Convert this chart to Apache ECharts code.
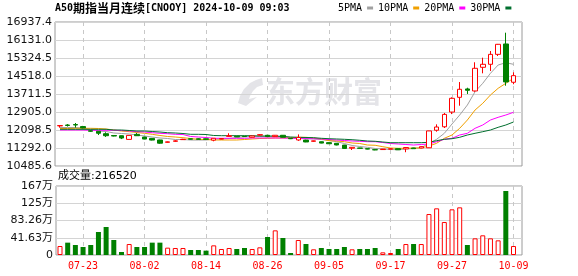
<!DOCTYPE html>
<html><head><meta charset="utf-8">
<script src="https://cdn.jsdelivr.net/npm/echarts@6/dist/echarts.min.js"></script>
<style>html,body{margin:0;padding:0;background:#fff}#c{width:578px;height:276px}</style>
</head><body><div id="c"></div>
<script>
const dates = ['07-18','07-19','07-22','07-23','07-24','07-25','07-26','07-29','07-30','07-31','08-01','08-02',
'08-05','08-06','08-07','08-08','08-09','08-12','08-13','08-14','08-15','08-16','08-19','08-20','08-21','08-22','08-23','08-26',
'08-27','08-28','08-29','08-30','09-02','09-03','09-04','09-05','09-06','09-09','09-10','09-11','09-12','09-13','09-16','09-17',
'09-18','09-19','09-20','09-23','09-24','09-25','09-26','09-27','09-30','10-01','10-02','10-03','10-04','10-07','10-08','10-09'];
const opens = [12280,12320,12340,12250,12060,12040,11930,11850,11840,11675,11900,11780,11720,11650,11545,11590,11665,11700,11700,11700,11640,11690,11810,11820,11815,11770,11870,11860,11800,11860,11720,11650,11645,11590,11570,11530,11500,11420,11280,11290,11260,11215,11220,11240,11260,11250,11290,11290,11300,12085,12240,12900,13560,13935,13845,14905,15040,15485,15950,14235];
const closes = [12295,12300,12320,12190,12040,11950,11840,11825,11735,11855,11840,11690,11645,11505,11565,11610,11680,11685,11680,11680,11725,11710,11840,11790,11800,11830,11885,11800,11860,11770,11705,11760,11560,11610,11510,11480,11425,11270,11320,11275,11240,11205,11240,11255,11210,11310,11260,11350,12055,12230,12795,13515,13920,13875,14860,15040,15485,15935,14250,14530];
const lows = [12200,12250,12200,12170,12010,11870,11785,11810,11690,11670,11830,11680,11630,11480,11530,11570,11650,11670,11670,11670,11590,11680,11800,11780,11790,11760,11850,11790,11790,11760,11690,11610,11550,11570,11500,11470,11410,11250,11200,11260,11230,11190,11210,11230,11200,11100,11250,11280,11290,12020,12185,12810,13185,13710,13810,14635,14740,15410,14080,14145];
const highs = [12300,12360,12410,12280,12090,12050,11995,11870,11850,11860,11960,11790,11730,11660,11580,11640,11700,11710,11720,11710,11730,11720,11950,11830,11830,11840,11910,11870,11870,11870,11730,11900,11660,11620,11580,11540,11510,11430,11330,11300,11270,11225,11250,11270,11270,11330,11300,11370,12060,12350,12860,13560,14245,13990,15130,15335,15635,15950,16455,14680];
const volumes = [217000,298000,241000,193000,241000,555000,676000,362000,72000,265000,193000,193000,298000,298000,177000,169000,169000,121000,121000,105000,233000,145000,169000,145000,169000,145000,185000,434000,595000,410000,48000,362000,265000,137000,169000,145000,145000,193000,137000,145000,145000,169000,64000,48000,145000,265000,265000,265000,989000,1126000,796000,1102000,1150000,241000,402000,475000,402000,354000,1545000,216520];
const ma5 = [12208,12208,12208,12186,12118,12051,12029,11962,11939,11917,11872,11827,11782,11738,11715,11670,11670,11648,11648,11648,11693,11693,11715,11760,11796,11805,11805,11805,11805,11805,11760,11738,11715,11693,11670,11626,11572,11491,11402,11357,11321,11267,11245,11222,11213,11245,11267,11303,11500,11679,11948,12365,12768,13216,13812,14188,14636,15008,15111,15039];
const ma10 = [12163,12163,12172,12172,12172,12163,12141,12096,12051,12020,11984,11948,11903,11850,11805,11782,11751,11715,11679,11670,11648,11648,11648,11648,11670,11693,11715,11724,11738,11738,11751,11769,11769,11738,11693,11617,11603,11572,11514,11491,11424,11411,11348,11290,11276,11276,11290,11290,11379,11500,11724,11872,12172,12544,12992,13292,13664,13964,14188,14412];
const ma20 = [12096,12096,12096,12096,12083,12083,12083,12083,12074,12051,12020,12006,11975,11948,11930,11903,11894,11805,11782,11760,11724,11724,11724,11724,11724,11738,11738,11738,11738,11738,11724,11715,11706,11706,11693,11670,11648,11626,11603,11590,11572,11572,11536,11491,11469,11446,11424,11446,11469,11572,11679,11724,11872,11948,12172,12320,12544,12665,12768,12889];
const ma30 = [12127,12127,12127,12127,12127,12127,12127,12096,12096,12074,12051,12051,12029,12006,11975,11962,11939,11903,11903,11894,11850,11841,11841,11841,11841,11841,11827,11827,11827,11805,11782,11769,11760,11751,11724,11706,11693,11679,11661,11635,11603,11590,11558,11527,11527,11527,11527,11527,11545,11617,11679,11706,11769,11872,11948,12020,12096,12217,12320,12454];
const priceTickLabels = ['10485.6','11292.0','12098.5','12905.0','13711.5','14518.0','15324.5','16131.0','16937.4'];
const volTickLabels = ['0','41.63万','83.26万','125万','167万'];
const maNames = ['5PMA','10PMA','20PMA','30PMA'];
const titleCode = 'CNOOY', titleName = '期指当月连续', titleTime = '2024-10-09 09:03';

const priceMin = 10483.2, priceStep = 806.4, priceMax = priceMin + 8 * priceStep;
const volStep = 416300, volMax = 4 * volStep;

const UP = '#ff0000', DOWN = '#008000';
const maColors = ['#a0a0a0', '#f0a000', '#ff00ff', '#006f2e'];
const showIdx = (i) => (i - 3) % 8 === 0;
const kdata = opens.map((o, i) => [o, closes[i], lows[i], highs[i]]);
const volData = volumes.map((v, i) => ({
  value: v,
  itemStyle: closes[i] >= opens[i]
    ? { color: '#ffffff', borderColor: UP, borderWidth: 1 }
    : { color: DOWN, borderColor: DOWN, borderWidth: 0 }
}));

const chart = echarts.init(document.getElementById('c'), null, { renderer: 'canvas' });
const mono = '"DejaVu Sans Mono", monospace';
const dashed = { show: true, interval: showIdx, lineStyle: { color: '#c8c8c8', type: [4, 4], width: 1 } };
const wm = '#e4e4e8';

chart.setOption({
  animation: false,
  backgroundColor: '#ffffff',
  title: [
    { left: 55, top: 2, padding: 0,
      text: '{a|A50}{c|' + titleName + '}{a|[' + titleCode + '] ' + titleTime + '}',
      textStyle: { rich: {
        a: { fontFamily: mono, fontSize: 10, color: '#000' },
        c: { fontFamily: '"Noto Sans CJK SC"', fontSize: 12, color: '#000' } } } },
    { left: 58, top: 171, padding: 0,
      text: '成交量:' + volumes[volumes.length - 1],
      textStyle: { fontFamily: '"DejaVu Sans", "Noto Sans CJK SC"', fontSize: 11, fontWeight: 'normal', color: '#000' } }
  ],
  legend: {
    left: 338, top: 3, padding: 0, itemGap: 5, itemWidth: 6, itemHeight: 3, align: 'right',
    icon: 'rect', data: maNames,
    textStyle: { fontFamily: mono, fontSize: 10, color: '#000' }
  },
  graphic: [
    { type: 'text', silent: true, z: 0, x: 266, y: 92,
      style: { text: '东方财富', fontSize: 29, fontWeight: 'bold', fontFamily: 'Noto Sans CJK SC',
        fill: wm, textVerticalAlign: 'middle', verticalAlign: 'middle' } },
    { type: 'polygon', silent: true, z: 0,
      shape: { points: [[238,103],[240,96],[244,89],[250,83],[256,80],[262,78],[263,85],[257,87],[253,91],[250,96],[249,99],[257,97],[246,106]] },
      style: { fill: wm } }
  ],
  grid: [
    { left: 55, top: 22, width: 467, height: 144, show: true, borderColor: '#9a9a9a', borderWidth: 1 },
    { left: 60, top: 22, width: 453.5, height: 144 },
    { left: 56, top: 186, width: 466, height: 69, show: true, borderColor: '#9a9a9a', borderWidth: 1 },
    { left: 60, top: 186, width: 453.5, height: 69 }
  ],
  xAxis: [
    { gridIndex: 0, type: 'value', show: false, min: 0, max: 1 },
    { gridIndex: 1, type: 'category', data: dates, boundaryGap: false,
      axisLine: { show: false }, axisTick: { show: false }, axisLabel: { show: false }, splitLine: dashed },
    { gridIndex: 2, type: 'value', show: false, min: 0, max: 1 },
    { gridIndex: 3, type: 'category', data: dates, boundaryGap: false,
      axisLine: { show: false }, axisTick: { show: false },
      axisLabel: { interval: showIdx, color: '#ff0000', fontFamily: mono, fontSize: 10, margin: 6 },
      splitLine: dashed }
  ],
  yAxis: [
    { gridIndex: 0, type: 'value', min: priceMin, max: priceMax, interval: priceStep,
      axisLine: { show: false }, axisTick: { show: false },
      axisLabel: { margin: 3, color: '#111', fontFamily: '"DejaVu Sans"', fontSize: 11,
        formatter: (v) => priceTickLabels[Math.round((v - priceMin) / priceStep)] },
      splitLine: { lineStyle: { color: '#d4d4d4', width: 1 } } },
    { gridIndex: 1, type: 'value', min: priceMin, max: priceMax, show: false, splitLine: { show: false } },
    { gridIndex: 2, type: 'value', min: 0, max: volMax, interval: volStep,
      axisLine: { show: false }, axisTick: { show: false },
      axisLabel: { margin: 3, color: '#111', fontFamily: '"DejaVu Sans", "Noto Sans CJK SC"', fontSize: 11,
        formatter: (v) => volTickLabels[Math.round(v / volStep)] },
      splitLine: { lineStyle: { color: '#d4d4d4', width: 1 } } },
    { gridIndex: 3, type: 'value', min: 0, max: volMax, show: false, splitLine: { show: false } }
  ],
  series: [
    ...[ma5, ma10, ma20, ma30].map((d, k) => ({
      name: maNames[k], type: 'line', xAxisIndex: 1, yAxisIndex: 1, data: d,
      symbol: 'none', color: maColors[k], lineStyle: { width: 1, color: maColors[k] }, z: 2
    })),
    { name: 'K', type: 'candlestick', xAxisIndex: 1, yAxisIndex: 1, data: kdata, barWidth: 5, z: 3,
      itemStyle: { color: '#ffffff', color0: DOWN, borderColor: UP, borderColor0: DOWN, borderWidth: 1 } },
    { name: 'VOL', type: 'bar', xAxisIndex: 3, yAxisIndex: 3, data: volData, barWidth: 5, z: 3 }
  ]
});
</script>
</body></html>
